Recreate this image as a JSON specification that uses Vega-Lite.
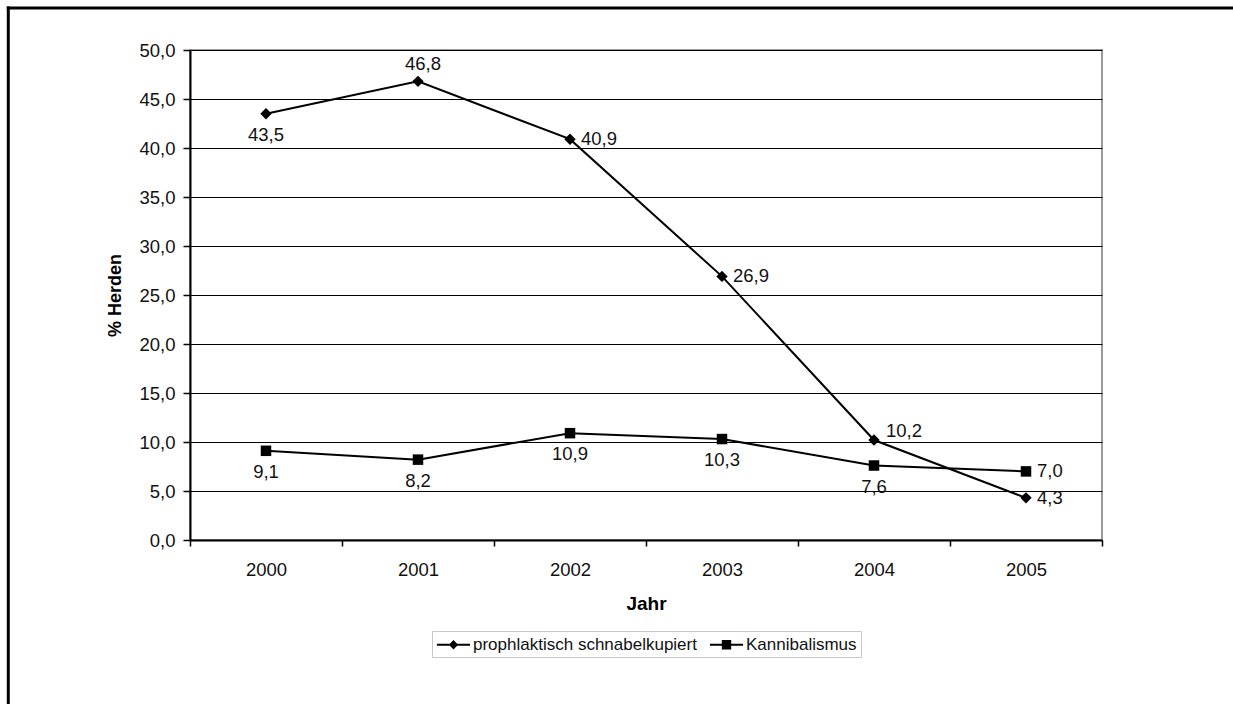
{
  "$schema": "https://vega.github.io/schema/vega-lite/v6.json",
  "background": "white",
  "autosize": {"type": "none"},
  "padding": {"left": 190, "top": 50, "right": 131, "bottom": 164},
  "width": 912,
  "height": 490,
  "config": {
    "locale": {"number": {"decimal": ",", "thousands": ".", "grouping": [3], "currency": ["", " €"]}},
    "font": "Liberation Sans",
    "view": {"stroke": "#9a9a9a", "strokeWidth": 2}
  },
  "data": {
    "values": [
      {"Jahr": 2000, "Serie": "prophlaktisch schnabelkupiert", "Wert": 43.5},
      {"Jahr": 2001, "Serie": "prophlaktisch schnabelkupiert", "Wert": 46.8},
      {"Jahr": 2002, "Serie": "prophlaktisch schnabelkupiert", "Wert": 40.9},
      {"Jahr": 2003, "Serie": "prophlaktisch schnabelkupiert", "Wert": 26.9},
      {"Jahr": 2004, "Serie": "prophlaktisch schnabelkupiert", "Wert": 10.2},
      {"Jahr": 2005, "Serie": "prophlaktisch schnabelkupiert", "Wert": 4.3},
      {"Jahr": 2000, "Serie": "Kannibalismus", "Wert": 9.1},
      {"Jahr": 2001, "Serie": "Kannibalismus", "Wert": 8.2},
      {"Jahr": 2002, "Serie": "Kannibalismus", "Wert": 10.9},
      {"Jahr": 2003, "Serie": "Kannibalismus", "Wert": 10.3},
      {"Jahr": 2004, "Serie": "Kannibalismus", "Wert": 7.6},
      {"Jahr": 2005, "Serie": "Kannibalismus", "Wert": 7.0}
    ]
  },
  "layer": [
    {
      "data": {"values": [{}]},
      "mark": {"type": "rule", "color": "black", "strokeWidth": 3, "strokeCap": "square", "clip": false},
      "encoding": {
        "x": {"datum": 1998.3046, "type": "quantitative"},
        "x2": {"datum": 2006.36},
        "y": {"datum": 54.2857, "type": "quantitative"}
      }
    },
    {
      "data": {"values": [{}]},
      "mark": {"type": "rule", "color": "black", "strokeWidth": 3, "strokeCap": "square", "clip": false},
      "encoding": {
        "x": {"datum": 1998.3046, "type": "quantitative"},
        "y": {"datum": 54.2857, "type": "quantitative"},
        "y2": {"datum": -16.6}
      }
    },
    {
      "encoding": {
        "x": {
          "field": "Jahr", "type": "quantitative",
          "scale": {"domain": [1999.5, 2005.5], "nice": false, "zero": false},
          "axis": {
            "title": "Jahr",
            "values": [1999.5, 2000, 2000.5, 2001, 2001.5, 2002, 2002.5, 2003, 2003.5, 2004, 2004.5, 2005, 2005.5],
            "labelExpr": "datum.value % 1 === 0 ? '' + datum.value : ''",
            "labelOverlap": false,
            "tickColor": {"condition": {"test": "datum.value % 1 === 0", "value": "transparent"}, "value": "black"},
            "domainColor": "black", "domainWidth": 2, "tickSize": 6, "tickWidth": 1.5,
            "labelFontSize": 18.5, "labelColor": "#111", "labelPadding": 14,
            "titleFontSize": 19, "titleFontWeight": "bold", "titleColor": "#000", "titlePadding": 16, "grid": false
          }
        },
        "y": {
          "field": "Wert", "type": "quantitative",
          "scale": {"domain": [0, 50], "nice": false},
          "axis": {
            "title": "% Herden", "format": ".1f", "values": [0, 5, 10, 15, 20, 25, 30, 35, 40, 45, 50],
            "grid": true, "gridColor": "black", "gridWidth": 1,
            "domainColor": "black", "domainWidth": 2, "tickColor": "black", "tickSize": 7, "tickWidth": 1.5,
            "labelFontSize": 18.5, "labelColor": "#111", "labelPadding": 8,
            "titleFontSize": 18, "titleFontWeight": "bold", "titleColor": "#000", "titlePadding": 14
          }
        }
      },
      "layer": [
        {
          "mark": {"type": "line", "color": "black", "strokeWidth": 2},
          "encoding": {"detail": {"field": "Serie"}}
        },
        {
          "transform": [{"filter": "datum.Serie === 'prophlaktisch schnabelkupiert'"}],
          "mark": {"type": "point", "shape": "diamond", "filled": true, "color": "black", "size": 130, "opacity": 1}
        },
        {
          "transform": [{"filter": "datum.Serie === 'Kannibalismus'"}],
          "mark": {"type": "point", "shape": "square", "filled": true, "color": "black", "size": 110, "opacity": 1}
        },
        {
          "transform": [{"filter": "datum.Wert < 0"}],
          "mark": {"type": "point", "filled": true, "color": "black", "opacity": 1},
          "encoding": {
            "shape": {
              "field": "Serie", "type": "nominal",
              "scale": {
                "domain": ["prophlaktisch schnabelkupiert", "Kannibalismus"],
                "range": ["M-1.95,-0.12L1.95,-0.12L1.95,0.12L-1.95,0.12ZM0,-0.55L0.55,0L0,0.55L-0.55,0Z", "M-1.95,-0.12L1.95,-0.12L1.95,0.12L-1.95,0.12ZM-0.55,-0.55L0.55,-0.55L0.55,0.55L-0.55,0.55Z"]
              },
              "legend": {
                "title": null, "orient": "none", "legendX": 242, "legendY": 581, "direction": "horizontal",
                "strokeColor": "#c8c8c8", "padding": 4,
                "labelFontSize": 17, "labelColor": "#111", "labelLimit": 400,
                "symbolSize": 289, "symbolOffset": 8, "labelOffset": 10, "columnPadding": 9
              }
            }
          }
        },
        {
          "transform": [{"filter": "(datum.Serie === 'Kannibalismus' && datum.Jahr !== 2005) || (datum.Serie === 'prophlaktisch schnabelkupiert' && datum.Jahr === 2000)"}],
          "mark": {"type": "text", "fontSize": 18.5, "color": "#111", "align": "center", "baseline": "middle", "dy": 21},
          "encoding": {"text": {"field": "Wert", "type": "quantitative", "format": ".1f"}}
        },
        {
          "transform": [{"filter": "datum.Serie === 'prophlaktisch schnabelkupiert' && datum.Jahr === 2001"}],
          "mark": {"type": "text", "fontSize": 18.5, "color": "#111", "align": "center", "baseline": "middle", "dy": -17, "dx": 5},
          "encoding": {"text": {"field": "Wert", "type": "quantitative", "format": ".1f"}}
        },
        {
          "transform": [{"filter": "(datum.Serie === 'prophlaktisch schnabelkupiert' && (datum.Jahr === 2002 || datum.Jahr === 2003 || datum.Jahr === 2005)) || (datum.Serie === 'Kannibalismus' && datum.Jahr === 2005)"}],
          "mark": {"type": "text", "fontSize": 18.5, "color": "#111", "align": "left", "baseline": "middle", "dx": 11},
          "encoding": {"text": {"field": "Wert", "type": "quantitative", "format": ".1f"}}
        },
        {
          "transform": [{"filter": "datum.Serie === 'prophlaktisch schnabelkupiert' && datum.Jahr === 2004"}],
          "mark": {"type": "text", "fontSize": 18.5, "color": "#111", "align": "left", "baseline": "middle", "dx": 12, "dy": -9},
          "encoding": {"text": {"field": "Wert", "type": "quantitative", "format": ".1f"}}
        }
      ]
    }
  ]
}
